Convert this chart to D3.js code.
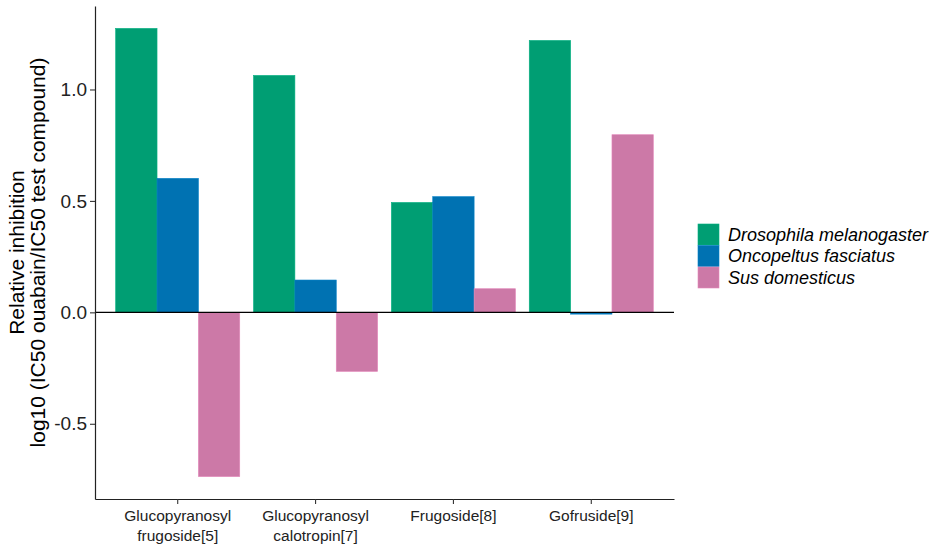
<!DOCTYPE html>
<html>
<head>
<meta charset="utf-8">
<script src="https://cdn.jsdelivr.net/npm/d3@7"></script>
<style>
  body { margin: 0; background: #fff; }
  text { font-family: "Liberation Sans", Arial, sans-serif; }
</style>
</head>
<body>
<div id="chart"></div>
<script>
// Data
const compounds = ["Glucopyranosyl\nfrugoside[5]", "Glucopyranosyl\ncalotropin[7]", "Frugoside[8]", "Gofruside[9]"];
const species = ["Drosophila melanogaster", "Oncopeltus fasciatus", "Sus domesticus"];
const drosophila = [1.274, 1.063, 0.493, 1.220];
const oncopeltus = [0.601, 0.145, 0.519, -0.008];
const sus = [-0.737, -0.265, 0.106, 0.797];
const yTicks = [-0.5, 0.0, 0.5, 1.0];
const colors = ["#009E73", "#0072B2", "#CC79A7"];

const series = [drosophila, oncopeltus, sus];
const rows = [];
compounds.forEach((c, i) => {
  species.forEach((s, j) => rows.push({ compound: c, species: s, value: series[j][i] }));
});

const W = 935, H = 547;
const panel = { left: 95, right: 674, top: 6, bottom: 499 };

const svg = d3.select("#chart").append("svg")
  .attr("width", W).attr("height", H);

// Scales (ggplot-like 5% expansion on y)
const allVals = rows.map(d => d.value);
const lo = d3.min(allVals), hi = d3.max(allVals), pad = (hi - lo) * 0.05;
const y = d3.scaleLinear()
  .domain([lo - pad, hi + pad])
  .range([panel.bottom, panel.top]);

const x = d3.scaleBand()
  .domain(compounds)
  .range([panel.left, panel.right])
  .paddingInner(0)
  .paddingOuter(0.1);

const xSub = d3.scaleBand()
  .domain(species)
  .range([x.bandwidth() * 0.05, x.bandwidth() * 0.95]);

const color = d3.scaleOrdinal().domain(species).range(colors);

// Bars
svg.append("g")
  .selectAll("rect")
  .data(rows)
  .join("rect")
  .attr("x", d => x(d.compound) + xSub(d.species))
  .attr("width", xSub.bandwidth())
  .attr("y", d => y(Math.max(0, d.value)))
  .attr("height", d => Math.abs(y(d.value) - y(0)))
  .attr("fill", d => color(d.species))
  .attr("stroke", d => d3.color(color(d.species)).brighter(0.3))
  .attr("stroke-width", 0.6);

// Zero line
svg.append("line")
  .attr("x1", panel.left).attr("x2", panel.right)
  .attr("y1", y(0)).attr("y2", y(0))
  .attr("stroke", "#000").attr("stroke-width", 1.2);

// Y axis
const yAxis = svg.append("g")
  .attr("transform", `translate(${panel.left},0)`)
  .call(d3.axisLeft(y).tickValues(yTicks).tickFormat(d => d.toFixed(1)).tickSize(5).tickSizeOuter(0));
yAxis.select(".domain").attr("stroke", "#222").attr("stroke-width", 1.2);
yAxis.selectAll(".tick line").attr("stroke", "#333").attr("stroke-width", 1.1);
yAxis.selectAll(".tick text")
  .attr("x", -8)
  .attr("fill", "#222")
  .style("font-size", "19px");

// X axis
const xAxis = svg.append("g")
  .attr("transform", `translate(0,${panel.bottom})`)
  .call(d3.axisBottom(x).tickSize(5).tickSizeOuter(0));
xAxis.select(".domain").attr("stroke", "#222").attr("stroke-width", 1.2);
xAxis.selectAll(".tick line").attr("stroke", "#333").attr("stroke-width", 1.1);
xAxis.selectAll(".tick text").each(function(d) {
  const t = d3.select(this).text("")
    .attr("fill", "#222").attr("dy", null).attr("y", null)
    .style("font-size", "15.5px");
  d.split("\n").forEach((line, k) => {
    t.append("tspan").attr("x", 0).attr("y", 22 + k * 20).text(line);
  });
});

// Y title
const yTitle = svg.append("text")
  .attr("transform", `translate(0,${(panel.top + panel.bottom) / 2}) rotate(-90)`)
  .attr("text-anchor", "middle")
  .style("font-size", "21px")
  .attr("fill", "#000");
yTitle.append("tspan").attr("x", 0).attr("y", 23.5).text("Relative inhibition");
yTitle.append("tspan").attr("x", 0).attr("y", 44.5).text("log10 (IC50 ouabain/IC50 test compound)");

// Legend
const legend = svg.append("g").attr("transform", "translate(698,224)");
const item = legend.selectAll("g")
  .data(species)
  .join("g")
  .attr("transform", (d, i) => `translate(0,${i * 21.5})`);
item.append("rect")
  .attr("width", 21).attr("height", 21)
  .attr("fill", d => color(d))
  .attr("stroke", d => d3.color(color(d)).brighter(0.3))
  .attr("stroke-width", 0.6);
item.append("text")
  .attr("x", 30).attr("y", 10.5)
  .attr("dy", "0.35em")
  .style("font-size", "18px")
  .style("font-style", "italic")
  .attr("fill", "#000")
  .text(d => d);
</script>
</body>
</html>
